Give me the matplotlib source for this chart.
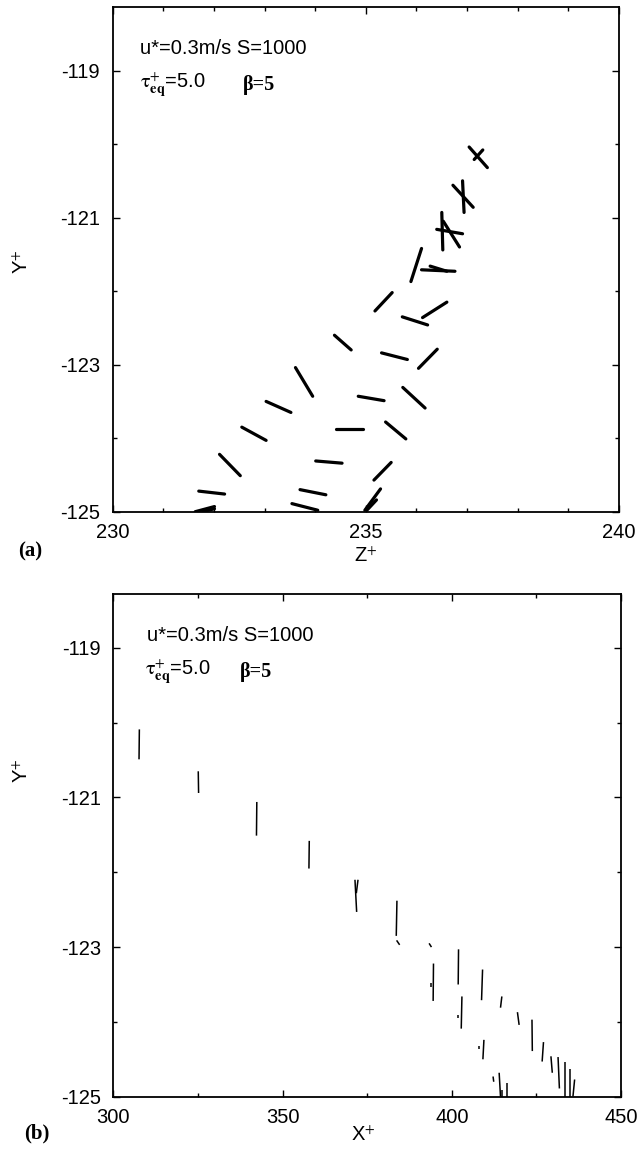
import matplotlib
matplotlib.use("Agg")
import matplotlib.pyplot as plt
from matplotlib.ticker import MultipleLocator

plt.rcParams['font.family'] = ['Liberation Sans', 'DejaVu Sans']
plt.rcParams['mathtext.fontset'] = 'stix'
plt.rcParams['axes.unicode_minus'] = False

# ---------------- Panel (a): Z+ vs Y+ segments ----------------
za_start = [237.04, 237.14, 236.91, 236.72, 236.50, 236.53, 236.40, 236.10, 236.10, 236.27,
            235.52, 236.60, 235.72, 234.38, 235.31, 236.41, 233.61, 234.85, 235.73, 233.03,
            232.55, 234.41, 235.39, 232.11, 234.01, 235.50, 231.70, 233.70, 235.29, 235.21,
            233.54, 231.63, 231.78]
ya_start = [-120.04, -120.21, -120.50, -120.56, -120.93, -121.05, -121.16, -121.42, -121.71, -121.66,
            -122.02, -122.15, -122.35, -122.60, -122.84, -122.79, -123.04, -123.43, -123.31, -123.50,
            -123.85, -123.88, -123.78, -124.22, -124.31, -124.33, -124.72, -124.70, -124.69, -124.84,
            -124.89, -125.00, -125.00]
za_end = [237.40, 237.31, 236.94, 237.12, 236.52, 236.85, 236.91, 235.89, 236.76, 236.60,
          235.18, 236.12, 236.22, 234.71, 235.82, 236.04, 233.95, 235.36, 236.17, 233.52,
          233.03, 234.94, 235.79, 232.52, 234.53, 235.16, 232.21, 234.21, 234.98, 235.02,
          234.05, 232.01, 232.01]
ya_end = [-120.32, -120.08, -120.93, -120.86, -121.44, -121.40, -121.22, -121.87, -121.73, -121.73,
          -122.27, -122.36, -122.46, -122.80, -122.93, -123.05, -123.43, -123.49, -123.59, -123.65,
          -124.03, -123.88, -124.01, -124.51, -124.34, -124.57, -124.76, -124.77, -124.98, -124.98,
          -124.98, -124.93, -124.96]

# ---------------- Panel (b): X+ vs Y+ segments ----------------
xb_start = [307.7, 325.1, 342.4, 357.9, 371.4, 372.3, 383.8, 383.7, 393.3, 394.6,
            393.8, 402.0, 403.0, 401.7, 409.1, 414.8, 419.4, 423.7, 409.5, 408.0,
            427.1, 429.3, 431.4, 433.4, 434.8, 436.3, 414.0, 414.9, 416.3, 412.2]
yb_start = [-120.09, -120.65, -121.06, -121.58, -122.10, -122.10, -122.38, -122.91, -122.95, -123.22,
            -123.48, -123.03, -123.66, -123.91, -123.30, -123.66, -123.87, -123.97, -124.24, -124.32,
            -124.27, -124.46, -124.47, -124.53, -124.63, -124.77, -124.68, -124.91, -124.82, -124.73]
xb_end = [307.6, 325.2, 342.3, 357.8, 371.9, 371.8, 383.6, 384.6, 394.0, 394.5,
          393.8, 401.9, 402.8, 401.7, 408.8, 414.4, 419.9, 423.8, 409.2, 408.0,
          426.7, 429.7, 431.8, 433.4, 434.8, 435.8, 414.4, 414.9, 416.3, 412.4]
yb_end = [-120.49, -120.94, -121.51, -121.95, -122.53, -122.28, -122.85, -122.97, -123.00, -123.72,
          -123.53, -123.50, -124.09, -123.95, -123.71, -123.81, -124.04, -124.39, -124.50, -124.36,
          -124.53, -124.68, -124.89, -125.00, -125.00, -125.00, -125.00, -125.00, -125.00, -124.80]

y_ticks = [-119, -121, -123, -125]
za_ticks = [230, 235, 240]
xb_ticks = [300, 350, 400, 450]

W, H = 637, 1150
fig = plt.figure(figsize=(W / 100, H / 100), dpi=100)

axa = fig.add_axes([112.7 / W, 1 - 511.7 / H, (619 - 112.7) / W, (511.7 - 7.3) / H])
axb = fig.add_axes([113.3 / W, 1 - 1096.7 / H, (621 - 113.3) / W, (1096.7 - 594) / H])

for z1, y1, z2, y2 in zip(za_start, ya_start, za_end, ya_end):
    axa.plot([z1, z2], [y1, y2], color='black', lw=2.3, solid_capstyle='round')
for x1, y1, x2, y2 in zip(xb_start, yb_start, xb_end, yb_end):
    axb.plot([x1, x2], [y1, y2], color='black', lw=1.1, solid_capstyle='butt')

axa.set_xlim(230, 240)
axa.set_ylim(-125, -118.14)
axb.set_xlim(300, 450)
axb.set_ylim(-125, -118.28)

axa.set_xticks(za_ticks)
axa.xaxis.set_minor_locator(MultipleLocator(1))
axb.set_xticks(xb_ticks)
axb.xaxis.set_minor_locator(MultipleLocator(25))

for ax in (axa, axb):
    ax.set_yticks(y_ticks)
    ax.yaxis.set_minor_locator(MultipleLocator(1))
    ax.tick_params(which='both', direction='in', top=True, right=True, width=1.0,
                   labelsize=14.5, colors='black')
    ax.tick_params(which='major', length=5)
    ax.tick_params(which='minor', length=3)
    ax.tick_params(axis='y', which='major', pad=9)
    ax.tick_params(axis='x', which='major', pad=8)
    for s in ax.spines.values():
        s.set_linewidth(1.3)

axa.set_xlabel('Z$^{+}$', fontsize=14.5)
axa.xaxis.set_label_coords(0.5, -0.068)
axb.set_xlabel('X$^{+}$', fontsize=14.5)
axb.xaxis.set_label_coords(0.492, -0.058)

fig.text(22 / W, 1 - 262 / H, 'Y$^{+}$', rotation=90, ha='center', va='center', fontsize=14.5)
fig.text(22 / W, 1 - 771 / H, 'Y$^{+}$', rotation=90, ha='center', va='center', fontsize=14.5)

fig.text(30 / W, 1 - 551 / H, '(a)', ha='center', va='center', fontsize=15,
         family='Liberation Serif', weight='bold')
fig.text(37 / W, 1 - 1133 / H, '(b)', ha='center', va='center', fontsize=15,
         family='Liberation Serif', weight='bold')

# annotations
for ax, xl, xt, xb_, y1, y2 in ((axa, 0.054, 0.054, 0.257, 0.919, 0.846),
                                (axb, 0.066, 0.0625, 0.249, 0.918, 0.845)):
    ax.text(xl, y1, 'u*=0.3m/s S=1000', transform=ax.transAxes, fontsize=14.5,
            ha='left', va='center')
    ax.text(xt, y2, r'$\mathrm{\tau}_{\mathbf{eq}}^{+}$=5.0', transform=ax.transAxes, fontsize=14.5,
            ha='left', va='center')
    ax.text(xb_, y2, 'β=5', transform=ax.transAxes, fontsize=14.5,
            ha='left', va='center', family='Liberation Serif', weight='bold')

fig.savefig('out.png', dpi=100)
